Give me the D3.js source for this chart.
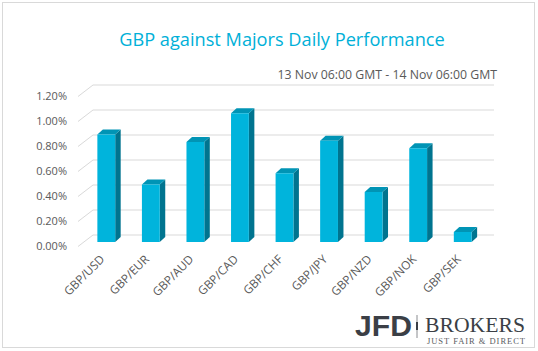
<!DOCTYPE html>
<html>
<head>
<meta charset="utf-8">
<script src="https://cdn.jsdelivr.net/npm/d3@7"></script>
<style>
  body { margin: 0; background: #fff; }
  svg { display: block; font-family: "Open Sans", sans-serif; }
</style>
</head>
<body>
<svg id="chart"></svg>
<script>
const pairs = ["GBP/USD", "GBP/EUR", "GBP/AUD", "GBP/CAD", "GBP/CHF", "GBP/JPY", "GBP/NZD", "GBP/NOK", "GBP/SEK"];
const changes = [0.86, 0.46, 0.80, 1.03, 0.55, 0.81, 0.40, 0.75, 0.08];
const yTicks = [0, 0.2, 0.4, 0.6, 0.8, 1.0, 1.2];

const svg_size = {width: 538, height: 351};
const svg = d3.select("#chart")
    .attr("width", svg_size.width)
    .attr("height", svg_size.height);

// outer frame
svg.append("rect")
    .attr("x", 2.5).attr("y", 2.5)
    .attr("width", 532).attr("height", 345)
    .attr("fill", "#fff")
    .attr("stroke", "#d9d9d9");

svg.append("text")
    .attr("x", 282).attr("y", 46)
    .attr("text-anchor", "middle")
    .attr("font-size", 18.2)
    .attr("fill", "#00b0d8")
    .text("GBP against Majors Daily Performance");

svg.append("text")
    .attr("x", 497).attr("y", 79)
    .attr("text-anchor", "end")
    .attr("font-size", 12.3)
    .attr("fill", "#595959")
    .text("13 Nov 06:00 GMT - 14 Nov 06:00 GMT");

// back wall of the 3d plot
const x = d3.scaleBand().domain(pairs).range([93, 494]).paddingInner(0.6).paddingOuter(0.3);
const y = d3.scaleLinear().domain([0, 1.2]).range([235, 85]);
const depth = {dx: -15, dy: 11.5};     // wall -> front edge
const barOff = {dx: -9, dy: 7};        // wall -> bar front face
const side = {dx: 5.5, dy: -5};        // bar side / top thickness

const grid = svg.append("g");
yTicks.forEach(t => {
    grid.append("line")
        .attr("x1", 93).attr("x2", 494)
        .attr("y1", y(t)).attr("y2", y(t))
        .attr("stroke", "#d9d9d9").attr("stroke-width", 1.2);
    grid.append("line")
        .attr("x1", 93).attr("y1", y(t))
        .attr("x2", 93 + depth.dx).attr("y2", y(t) + depth.dy)
        .attr("stroke", "#d9d9d9").attr("stroke-width", 1);
    grid.append("text")
        .attr("x", 67).attr("y", y(t) + depth.dy)
        .attr("dy", "0.35em")
        .attr("text-anchor", "end")
        .attr("font-size", 11)
        .attr("fill", "#595959")
        .text(d3.format(".2%")(t / 100));
});

const bars = svg.append("g").selectAll("g")
    .data(pairs.map((p, i) => ({pair: p, value: changes[i]})))
    .join("g");

const bw = x.bandwidth();
function fx(d) { return x(d.pair) + barOff.dx; }
function fy(v) { return y(v) + barOff.dy; }

// side face
bars.append("path")
    .attr("fill", "#00748f")
    .attr("d", d => {
        const x0 = fx(d) + bw, yt = fy(d.value), yb = fy(0);
        return `M${x0},${yb} L${x0},${yt} L${x0 + side.dx},${yt + side.dy} L${x0 + side.dx},${yb + side.dy} Z`;
    });
// top face
bars.append("path")
    .attr("fill", "#0094b5")
    .attr("d", d => {
        const x0 = fx(d), yt = fy(d.value);
        return `M${x0},${yt} L${x0 + side.dx},${yt + side.dy} L${x0 + bw + side.dx},${yt + side.dy} L${x0 + bw},${yt} Z`;
    });
// front face
bars.append("rect")
    .attr("fill", "#00b4dc")
    .attr("x", d => fx(d))
    .attr("y", d => fy(d.value))
    .attr("width", bw)
    .attr("height", d => fy(0) - fy(d.value));

// category labels
svg.append("g").selectAll("text")
    .data(pairs)
    .join("text")
    .attr("transform", d => `translate(${x(d) + barOff.dx + bw / 2 - 1},${260}) rotate(-45)`)
    .attr("text-anchor", "end")
    .attr("font-size", 11.8)
    .attr("fill", "#595959")
    .text(d => d);

// logo
const logo = svg.append("g");
logo.append("text")
    .attr("x", 355).attr("y", 336)
    .style("font-family", "'Liberation Sans', Arial, sans-serif")
    .attr("font-weight", "bold")
    .attr("font-size", 29)
    .attr("textLength", 57)
    .attr("lengthAdjust", "spacingAndGlyphs")
    .attr("fill", "#3b3f46")
    .text("JFD");
logo.append("line")
    .attr("x1", 417).attr("x2", 417)
    .attr("y1", 315).attr("y2", 338)
    .attr("stroke", "#8a8c90").attr("stroke-width", 1);
logo.append("rect")
    .attr("x", 416).attr("y", 322).attr("width", 2).attr("height", 8)
    .attr("fill", "#3b3f46");
logo.append("text")
    .attr("x", 425).attr("y", 332)
    .style("font-family", "'Liberation Serif', serif")
    .attr("font-size", 22)
    .attr("textLength", 100)
    .attr("lengthAdjust", "spacingAndGlyphs")
    .attr("fill", "#3b3f46")
    .text("BROKERS");
logo.append("text")
    .attr("x", 427).attr("y", 343.5)
    .style("font-family", "'Liberation Serif', serif")
    .attr("font-size", 8.5)
    .attr("textLength", 98)
    .attr("fill", "#5a5d62")
    .text("JUST FAIR & DIRECT");
</script>
</body>
</html>
